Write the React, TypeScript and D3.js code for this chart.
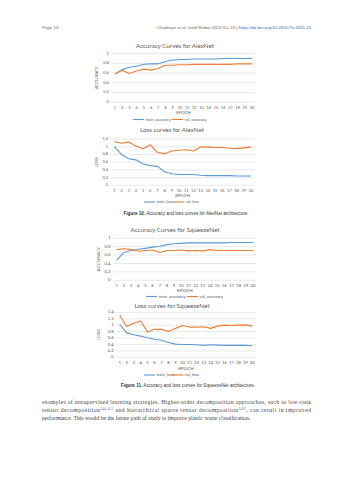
import React from "react";
import * as d3 from "d3";

// epochs on the x axis
const epochs = [1, 2, 3, 4, 5, 6, 7, 8, 9, 10, 11, 12, 13, 14, 15, 16, 17, 18, 19, 20];

// AlexNet
const alexTrainAcc = [0.58, 0.67, 0.72, 0.74, 0.78, 0.79, 0.79, 0.84, 0.87, 0.88, 0.88, 0.89, 0.89, 0.89, 0.89, 0.9, 0.9, 0.9, 0.9, 0.9];
const alexValAcc = [0.59, 0.65, 0.59, 0.64, 0.68, 0.66, 0.7, 0.76, 0.76, 0.77, 0.77, 0.78, 0.78, 0.78, 0.78, 0.78, 0.78, 0.79, 0.79, 0.79];
const alexTrainLoss = [1.0, 0.8, 0.69, 0.66, 0.55, 0.51, 0.49, 0.35, 0.3, 0.28, 0.28, 0.28, 0.26, 0.25, 0.25, 0.25, 0.25, 0.24, 0.24, 0.24];
const alexValLoss = [1.13, 1.09, 1.12, 1.02, 0.95, 1.05, 0.85, 0.82, 0.89, 0.91, 0.92, 0.89, 0.99, 0.99, 0.98, 0.98, 0.96, 0.95, 0.97, 0.99];

// SqueezeNet
const sqTrainAcc = [0.48, 0.66, 0.71, 0.74, 0.76, 0.79, 0.81, 0.85, 0.87, 0.88, 0.89, 0.89, 0.89, 0.89, 0.89, 0.89, 0.9, 0.9, 0.9, 0.9];
const sqValAcc = [0.73, 0.75, 0.73, 0.69, 0.71, 0.72, 0.66, 0.71, 0.71, 0.72, 0.7, 0.71, 0.7, 0.73, 0.71, 0.71, 0.71, 0.71, 0.71, 0.71];
const sqTrainLoss = [1.02, 0.76, 0.7, 0.66, 0.61, 0.56, 0.53, 0.46, 0.41, 0.4, 0.4, 0.39, 0.37, 0.39, 0.38, 0.37, 0.37, 0.37, 0.37, 0.36];
const sqValLoss = [1.31, 0.96, 1.06, 1.13, 0.79, 0.87, 0.87, 0.8, 0.9, 0.99, 0.94, 0.94, 0.95, 0.9, 0.97, 1.0, 0.99, 1.0, 1.01, 0.97];

// tick labels
const accTicks = [0, 0.2, 0.4, 0.6, 0.8, 1];
const lossTicksA = [0, 0.2, 0.4, 0.6, 0.8, 1, 1.2];
const lossTicksS = [0, 0.2, 0.4, 0.6, 0.8, 1, 1.2, 1.4];

const BLUE = "#5b9bd5";
const ORANGE = "#ed7d31";
const GREY = "#595959";
const GRID = "#d9d9d9";
const SANS = "'Liberation Sans', Arial, sans-serif";
const CHART_FONT = "Lato, 'Open Sans', sans-serif";

const Chart = ({ title, titleX, titleY, yLabel, yLabelX, ticks, x0, x1, yTop, yBottom,
  tickY, epochY, legendY, legendX, names, train, val, fs }) => {
  const yMax = ticks[ticks.length - 1];
  const y = d3.scaleLinear().domain([0, yMax]).range([yBottom, yTop]);
  const x = d3.scaleBand().domain(epochs.map(String)).range([x0, x1]);
  const cx = (i) => x(String(epochs[i])) + x.bandwidth() / 2;
  const line = d3.line().x((d, i) => cx(i)).y(d => y(d));
  const fmt = (t) => String(+t.toFixed(1));

  return (
    <g fontFamily={CHART_FONT} fill={GREY}>
      <text x={titleX} y={titleY} fontSize={6.2} textAnchor="middle" dominantBaseline="middle">{title}</text>
      {ticks.map(t => (
        <g key={t}>
          <line x1={x0} x2={x1} y1={y(t)} y2={y(t)} stroke={GRID} strokeWidth={0.6} />
          <text x={x0 - 2.5} y={y(t)} fontSize={fs} textAnchor="end" dominantBaseline="middle">{fmt(t)}</text>
        </g>
      ))}
      {epochs.map((e, i) => (
        <text key={e} x={cx(i)} y={tickY} fontSize={fs} textAnchor="middle" dominantBaseline="middle">{e}</text>
      ))}
      <text x={(x0 + x1) / 2} y={epochY} fontSize={fs + 0.3} textAnchor="middle" dominantBaseline="middle">EPOCH</text>
      <text transform={`translate(${yLabelX},${(yTop + yBottom) / 2}) rotate(-90)`} fontSize={fs + 0.3}
        textAnchor="middle" dominantBaseline="middle">{yLabel}</text>
      <path d={line(train)} fill="none" stroke={BLUE} strokeWidth={1.1} strokeLinejoin="round" />
      <path d={line(val)} fill="none" stroke={ORANGE} strokeWidth={1.1} strokeLinejoin="round" />
      {/* legend */}
      <line x1={legendX[0]} x2={legendX[0] + 11} y1={legendY} y2={legendY} stroke={BLUE} strokeWidth={1.1} />
      <text x={legendX[0] + 12.5} y={legendY} fontSize={fs} dominantBaseline="middle">{names[0]}</text>
      <line x1={legendX[1]} x2={legendX[1] + 11} y1={legendY} y2={legendY} stroke={ORANGE} strokeWidth={1.1} />
      <text x={legendX[1] + 12.5} y={legendY} fontSize={fs} dominantBaseline="middle">{names[1]}</text>
    </g>
  );
};

const App = () => {
  return (
    <svg width={353} height={480} style={{ position: "absolute", left: 0, top: 0, background: "#fff" }}>
      {/* page header */}
      <text x={42} y={29} fontFamily={SANS} fontSize={4.4} fill="#666">Page 14</text>
      <text x={311} y={29} fontFamily={SANS} fontSize={4.4} fill="#666" textAnchor="end">
        Chadhaor et al. Intell Robot 2023;3:1-19  |  <tspan fill="#2a6ebb">https://dx.doi.org/10.20517/ir.2021.15</tspan>
      </text>

      <Chart title="Accuracy Curves for AlexNet" titleX={175} titleY={46} yLabel="ACCURACY" yLabelX={97}
        ticks={accTicks} x0={111.4} x1={255.6} yTop={53.7} yBottom={102} tickY={108} epochY={112.5}
        legendY={119.5} legendX={[133, 172]} names={["train_accuracy", "val_accuracy"]}
        train={alexTrainAcc} val={alexValAcc} fs={4} />

      <Chart title="Loss curves for AlexNet" titleX={172} titleY={130} yLabel="LOSS" yLabelX={97}
        ticks={lossTicksA} x0={110.7} x1={254.6} yTop={139} yBottom={185.3} tickY={191} epochY={195.5}
        legendY={202} legendX={[144, 173]} names={["train_loss", "val_loss"]}
        train={alexTrainLoss} val={alexValLoss} fs={4} />

      <text x={186} y={214} fontFamily={SANS} fontSize={4.6} fill="#333" textAnchor="middle" dominantBaseline="middle">
        <tspan fontWeight="bold">Figure 10.</tspan> Accuracy and loss curves for AlexNet architecture.
      </text>

      <Chart title="Accuracy Curves for SqueezeNet" titleX={175} titleY={230} yLabel="ACCURACY" yLabelX={99}
        ticks={accTicks} x0={113.1} x1={256.6} yTop={238.3} yBottom={280.3} tickY={286} epochY={291.3}
        legendY={296.5} legendX={[146, 187]} names={["train_accuracy", "val_accuracy"]}
        train={sqTrainAcc} val={sqValAcc} fs={4.3} />

      <Chart title="Loss curves for SqueezeNet" titleX={172} titleY={306} yLabel="LOSS" yLabelX={99}
        ticks={lossTicksS} x0={116.2} x1={255.8} yTop={312.3} yBottom={357.3} tickY={362.7} epochY={369}
        legendY={375} legendX={[144, 172]} names={["train_loss", "val_loss"]}
        train={sqTrainLoss} val={sqValLoss} fs={4.3} />

      <text x={188} y={386} fontFamily={SANS} fontSize={4.6} fill="#333" textAnchor="middle" dominantBaseline="middle">
        <tspan fontWeight="bold">Figure 11.</tspan> Accuracy and loss curves for SqueezeNet architecture.
      </text>

      {/* body text */}
      <g fontFamily="'Liberation Serif', 'DejaVu Serif', serif" fontSize={5.7} fill="#444">
        <text x={42} y={404} textLength={269} lengthAdjust="spacing">
          examples of unsupervised learning strategies. Higher-order decomposition approaches, such as low-rank
        </text>
        <text x={42} y={412} textLength={269} lengthAdjust="spacing">
          tensor decomposition<tspan fontSize={3.4} dy={-2} fill="#2a6ebb">[44,45]</tspan><tspan dy={2}> and hierarchical sparse tensor decomposition</tspan><tspan fontSize={3.4} dy={-2} fill="#2a6ebb">[46]</tspan><tspan dy={2}>, can result in improved</tspan>
        </text>
        <text x={42} y={420}>
          performance. This would be the future path of study to improve plastic waste classification.
        </text>
      </g>
    </svg>
  );
};

export default App;
